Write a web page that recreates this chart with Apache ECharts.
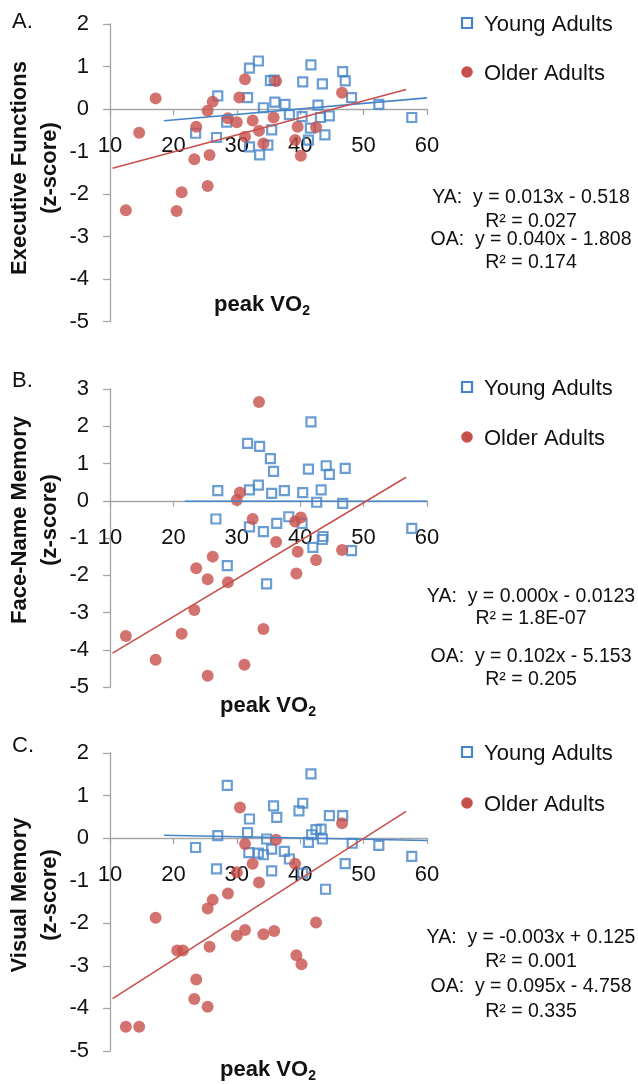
<!DOCTYPE html>
<html>
<head>
<meta charset="utf-8">
<script src="https://cdn.jsdelivr.net/npm/echarts@6/dist/echarts.min.js"></script>
<style>
html,body{margin:0;padding:0;background:#fff;}
#c{width:638px;height:1084px;}
</style>
</head>
<body>
<div id="c"></div>
<script>
// ---------- data ----------
const xTicks = [10, 20, 30, 40, 50, 60];
const yMaxes = [2, 3, 2];
const yMin = -5;
const panelLetters = ['A.', 'B.', 'C.'];
const yNames = ['Executive Functions', 'Face-Name Memory', 'Visual Memory'];
const seriesNames = ['Young Adults', 'Older Adults'];

const execYA = [[32.0,0.96],[33.4,1.13],[41.7,1.04],[46.7,0.88],[47.1,0.66],[35.3,0.67],[35.9,0.68],[40.4,0.64],[43.5,0.59],[27.0,0.31],[31.7,0.27],[36.0,0.16],[37.6,0.11],[34.2,0.03],[42.8,0.09],[48.1,0.27],[52.4,0.11],[57.6,-0.20],[38.3,-0.13],[40.3,-0.18],[43.2,-0.20],[44.6,-0.16],[28.4,-0.31],[23.5,-0.57],[26.8,-0.67],[35.5,-0.49],[41.6,-0.45],[43.9,-0.61],[32.0,-0.89],[34.9,-0.85],[33.6,-1.08],[41.3,-0.73]];
const execOA = [[17.2,0.25],[14.6,-0.56],[31.3,0.70],[36.2,0.66],[46.6,0.38],[30.4,0.27],[26.2,0.17],[25.4,-0.04],[28.6,-0.22],[30.0,-0.31],[32.5,-0.27],[35.8,-0.20],[33.5,-0.51],[23.6,-0.42],[39.6,-0.42],[42.5,-0.43],[31.3,-0.65],[34.2,-0.81],[39.2,-0.73],[40.1,-1.10],[23.3,-1.18],[25.7,-1.08],[25.4,-1.81],[21.3,-1.96],[12.5,-2.38],[20.5,-2.40]];

const faceYA = [[41.7,2.12],[31.7,1.54],[33.6,1.46],[35.3,1.13],[35.8,0.79],[41.3,0.85],[44.1,0.94],[44.6,0.71],[47.1,0.87],[27.0,0.27],[32.0,0.29],[33.4,0.42],[35.5,0.20],[37.5,0.27],[40.4,0.22],[43.3,0.29],[42.6,-0.04],[46.7,-0.07],[26.7,-0.49],[38.2,-0.43],[36.3,-0.61],[32.0,-0.70],[34.2,-0.83],[40.3,-0.61],[57.6,-0.74],[43.6,-0.96],[42.0,-1.25],[43.5,-1.04],[48.1,-1.34],[28.5,-1.74],[34.7,-2.23]];
const faceOA = [[33.5,2.65],[30.5,0.22],[30.0,0.02],[32.5,-0.49],[39.2,-0.56],[40.1,-0.45],[36.2,-1.11],[39.6,-1.37],[46.6,-1.32],[42.5,-1.59],[26.2,-1.50],[23.6,-1.81],[25.4,-2.11],[28.6,-2.19],[39.4,-1.95],[23.3,-2.93],[21.3,-3.57],[12.5,-3.63],[34.2,-3.44],[17.2,-4.27],[31.2,-4.40],[25.4,-4.70]];

const visYA = [[41.7,1.51],[28.5,1.24],[35.8,0.76],[40.4,0.82],[39.8,0.64],[36.3,0.49],[32.0,0.45],[44.6,0.53],[46.7,0.53],[31.7,0.13],[27.0,0.06],[34.7,-0.02],[42.5,0.20],[43.3,0.21],[41.8,0.08],[43.5,-0.02],[41.3,-0.10],[48.2,-0.12],[52.4,-0.17],[57.6,-0.43],[23.5,-0.22],[31.9,-0.34],[33.4,-0.35],[34.2,-0.39],[35.5,-0.26],[37.5,-0.31],[38.3,-0.49],[47.1,-0.60],[26.8,-0.72],[35.5,-0.77],[40.4,-0.82],[44.0,-1.20]];
const visOA = [[30.5,0.72],[46.6,0.35],[36.2,-0.04],[31.3,-0.14],[32.5,-0.60],[39.2,-0.60],[30.0,-0.80],[33.5,-1.04],[28.6,-1.30],[26.2,-1.45],[25.4,-1.65],[17.2,-1.87],[42.5,-1.98],[31.3,-2.16],[30.0,-2.29],[34.2,-2.26],[35.9,-2.18],[25.7,-2.55],[20.6,-2.64],[21.5,-2.64],[39.4,-2.75],[40.2,-2.96],[23.6,-3.32],[23.3,-3.78],[25.4,-3.96],[12.5,-4.43],[14.6,-4.43]];

// regression lines as printed in the figure
const yaSlope = [0.013, 0.000, -0.003];
const yaIntercept = [-0.518, -0.0123, 0.125];
const yaRange = [[18.5, 60], [21.8, 60], [18.5, 60]];
const oaSlope = [0.040, 0.102, 0.095];
const oaIntercept = [-1.808, -5.153, -4.758];
const oaRange = [[10.4, 56.7], [10.4, 56.7], [10.4, 56.7]];

const eqYA = ['YA:  y = 0.013x - 0.518', 'YA:  y = 0.000x - 0.0123', 'YA:  y = -0.003x + 0.125'];
const r2YA = ['R\u00B2 = 0.027', 'R\u00B2 = 1.8E-07', 'R\u00B2 = 0.001'];
const eqOA = ['OA:  y = 0.040x - 1.808', 'OA:  y = 0.102x - 5.153', 'OA:  y = 0.095x - 4.758'];
const r2OA = ['R\u00B2 = 0.174', 'R\u00B2 = 0.205', 'R\u00B2 = 0.335'];

const dataYA = [execYA, faceYA, visYA];
const dataOA = [execOA, faceOA, visOA];

// ---------- layout / style ----------
const FONT = "'Liberation Sans', Arial, Helvetica, sans-serif";
const BLUE = '#4584C8';
const RED = '#C8504C';
const AXIS = '#A6A6A6';
const grids = [
  {left: 110, top: 24, width: 317, height: 297.5},
  {left: 110, top: 389, width: 317, height: 298},
  {left: 110, top: 753, width: 317, height: 298}
];
const letterY = [22, 381, 746];
const yNameY = [168, 520, 895];
const xNamePos = [[262, 305], [268, 706], [268, 1070]];
const legendY = [[23, 72], [387, 437], [752, 803]];
const eqY = [[198, 222, 240, 263], [597, 619, 657, 680], [938, 962, 987, 1012]];

const chart = echarts.init(document.getElementById('c'), null, {renderer: 'canvas', width: 638, height: 1084});

const xAxes = [], yAxes = [], series = [], graphic = [];
for (let i = 0; i < 3; i++) {
  // the x axis crosses at y = 0: shift it up from the grid bottom
  const zeroShift = grids[i].height * (0 - yMin) / (yMaxes[i] - yMin);
  xAxes.push({
    gridIndex: i, type: 'value', min: xTicks[0], max: xTicks[xTicks.length - 1], interval: 10,
    position: 'bottom', offset: -zeroShift,
    axisLine: {show: true, onZero: false, lineStyle: {color: AXIS, width: 1.3}},
    axisTick: {show: true, length: 6, lineStyle: {color: AXIS, width: 1.3}},
    splitLine: {show: false},
    axisLabel: {fontSize: 22, color: '#111', margin: 26, fontFamily: FONT}
  });
  yAxes.push({
    gridIndex: i, type: 'value', min: yMin, max: yMaxes[i], interval: 1,
    axisLine: {show: true, onZero: false, lineStyle: {color: AXIS, width: 1.3}},
    axisTick: {show: true, length: 7, lineStyle: {color: AXIS, width: 1.3}},
    splitLine: {show: false},
    axisLabel: {fontSize: 22, color: '#111', margin: 21, fontFamily: FONT}
  });
  series.push({
    type: 'scatter', name: seriesNames[0], xAxisIndex: i, yAxisIndex: i, data: dataYA[i],
    symbol: 'rect', symbolSize: 9,
    itemStyle: {color: 'rgba(255,255,255,0)', borderColor: BLUE, borderWidth: 2.2}, z: 2
  });
  series.push({
    type: 'scatter', name: seriesNames[1], xAxisIndex: i, yAxisIndex: i, data: dataOA[i],
    symbol: 'circle', symbolSize: 12,
    itemStyle: {color: RED}, z: 3
  });
  const ya = yaRange[i].map(x => [x, yaSlope[i] * x + yaIntercept[i]]);
  const oa = oaRange[i].map(x => [x, oaSlope[i] * x + oaIntercept[i]]);
  series.push({type: 'line', xAxisIndex: i, yAxisIndex: i, data: ya, showSymbol: false, silent: true,
    lineStyle: {color: BLUE, width: 1.6}, z: 4});
  series.push({type: 'line', xAxisIndex: i, yAxisIndex: i, data: oa, showSymbol: false, silent: true,
    lineStyle: {color: RED, width: 1.6}, z: 4});

  // panel letter
  graphic.push({type: 'text', x: 12, y: letterY[i], style: {text: panelLetters[i], font: '22px ' + FONT, fill: '#111', textVerticalAlign: 'middle'}});
  // y-axis name (two lines)
  graphic.push({type: 'text', x: 20, y: yNameY[i], rotation: Math.PI / 2,
    style: {text: yNames[i], font: 'bold 22px ' + FONT, fill: '#111', textAlign: 'center', textVerticalAlign: 'middle'}});
  graphic.push({type: 'text', x: 50, y: yNameY[i], rotation: Math.PI / 2,
    style: {text: '(z-score)', font: 'bold 22px ' + FONT, fill: '#111', textAlign: 'center', textVerticalAlign: 'middle'}});
  // x-axis name
  graphic.push({type: 'text', x: xNamePos[i][0], y: xNamePos[i][1],
    style: {text: '{a|peak VO}{b|2}', textAlign: 'center', textVerticalAlign: 'middle',
      rich: {a: {fontSize: 22, fontWeight: 'bold', fontFamily: FONT, fill: '#111', lineHeight: 26},
             b: {fontSize: 14, fontWeight: 'bold', fontFamily: FONT, fill: '#111', lineHeight: 12, verticalAlign: 'bottom'}}}});
  // legend
  graphic.push({type: 'rect', shape: {x: 462, y: legendY[i][0] - 5, width: 10, height: 10},
    style: {fill: 'none', stroke: BLUE, lineWidth: 2.2}});
  graphic.push({type: 'text', x: 484, y: legendY[i][0] + 2,
    style: {text: seriesNames[0], font: '22px ' + FONT, fill: '#111', textVerticalAlign: 'middle'}});
  graphic.push({type: 'circle', shape: {cx: 467, cy: legendY[i][1], r: 5.8}, style: {fill: RED}});
  graphic.push({type: 'text', x: 484, y: legendY[i][1] + 2,
    style: {text: seriesNames[1], font: '22px ' + FONT, fill: '#111', textVerticalAlign: 'middle'}});
  // equations
  const lines = [eqYA[i], r2YA[i], eqOA[i], r2OA[i]];
  lines.forEach((t, k) => {
    graphic.push({type: 'text', x: 531, y: eqY[i][k],
      style: {text: t, font: '19.5px ' + FONT, fill: '#111', textAlign: 'center', textVerticalAlign: 'middle'}});
  });
}

chart.setOption({
  animation: false,
  backgroundColor: '#fff',
  grid: grids,
  xAxis: xAxes,
  yAxis: yAxes,
  series: series,
  graphic: graphic
});
</script>
</body>
</html>
